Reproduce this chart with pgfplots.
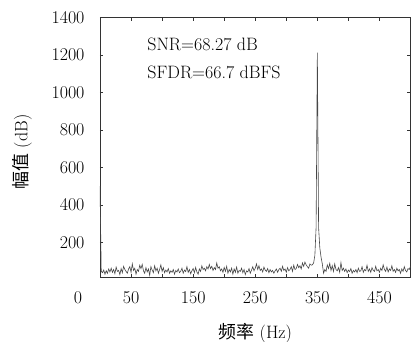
\documentclass[border=0pt]{standalone}
\usepackage{fontspec}
\newfontfamily\cjk{Noto Sans CJK SC}
\usepackage{pgfplots}
\pgfplotsset{compat=1.18}
\usepackage{pgfplotstable}
\pgfplotstableread{
x y
0 500
2 45
4 38
6 52
8 30
10 48
12 35
14 58
16 42
18 62
20 40
22 55
24 33
26 68
28 45
30 50
32 28
34 60
36 38
38 72
40 55
42 45
44 35
46 58
48 70
50 40
52 85
54 50
56 62
58 30
60 55
62 45
64 78
66 60
68 82
70 48
72 35
74 65
76 42
78 58
80 25
82 70
84 52
86 38
88 75
90 48
92 62
94 35
96 55
98 80
100 45
102 65
104 38
106 52
108 42
110 60
112 35
114 48
116 40
118 55
120 30
122 50
124 42
126 58
128 38
130 46
132 62
134 35
136 52
138 44
140 70
142 40
144 55
146 32
148 48
150 60
152 38
154 66
156 42
158 30
160 58
162 45
164 75
166 55
168 62
170 48
172 70
174 58
176 82
178 60
180 72
182 50
184 65
186 55
188 90
190 62
192 70
194 48
196 58
198 40
200 66
202 45
204 72
206 35
208 55
210 42
212 62
214 30
216 58
218 40
220 68
222 35
224 50
226 45
228 62
230 38
232 55
234 28
236 48
238 42
240 60
242 35
244 52
246 70
248 48
250 62
252 85
254 55
256 75
258 50
260 58
262 42
264 68
266 52
268 45
270 60
272 38
274 55
276 42
278 50
280 35
282 48
284 58
286 40
288 55
290 62
292 45
294 72
296 50
298 58
300 40
302 65
304 48
306 55
308 70
310 45
312 78
314 55
316 60
318 82
320 65
322 75
324 58
326 90
328 72
330 95
332 80
334 70
336 62
338 85
340 78
342 80
344 90
346 130
348 280
350 1213
352 280
354 170
356 120
358 85
360 35
362 55
364 45
366 80
368 60
370 88
372 50
374 75
376 45
378 85
380 55
382 48
384 65
386 40
388 92
390 50
392 62
394 45
396 58
398 38
400 52
402 44
404 60
406 35
408 50
410 42
412 55
414 38
416 62
418 45
420 48
422 70
424 40
426 55
428 48
430 78
432 45
434 58
436 40
438 65
440 50
442 45
444 72
446 48
448 55
450 40
452 62
454 50
456 80
458 55
460 45
462 68
464 42
466 58
468 50
470 75
472 45
474 55
476 40
478 62
480 48
482 55
484 35
486 58
488 45
490 70
492 50
494 42
496 60
498 55
500 72
}\spectrum
\begin{document}
\begin{tikzpicture}
\begin{axis}[
  scale only axis,
  width=310.5bp, height=259.4bp,
  xmin=0, xmax=500, ymin=15, ymax=1400,
  font=\fontsize{18}{21}\selectfont,
  /pgf/number format/assume math mode=true,
  /pgf/number format/set thousands separator={},
  axis line style={black!80, line width=0.8bp},
  every tick/.style={black!80, line width=0.6bp},
  major tick length=3.5bp,
  tick align=inside,
  xtick={0,50,...,500},
  xticklabels={,50,,150,,250,,350,,450,},
  ytick={200,400,...,1400},
  scaled ticks=false,
  xticklabel style={yshift=-11bp},
  yticklabel style={xshift=-12bp},
  extra x ticks={0},
  extra x tick labels={0},
  extra x tick style={major tick length=0pt, xticklabel style={xshift=-22bp}},
  xlabel={{\cjk 频率} (Hz)},
  ylabel={{\cjk 幅值} (dB)},
  xlabel style={at={(rel axis cs:0.5,-0.216)}, anchor=center},
  ylabel style={at={(rel axis cs:-0.251,0.482)}, anchor=center},
]
\addplot[black!72, line width=0.6bp] table[x=x, y=y] {\spectrum};
\node[anchor=west, inner sep=0pt] at (axis cs:76,1259) {SNR=68.27 dB};
\node[anchor=west, inner sep=0pt] at (axis cs:76,1109) {SFDR=66.7 dBFS};
\end{axis}
\pgfresetboundingbox
\path[use as bounding box] (-100bp,-65bp) rectangle (311bp,277bp);
\end{tikzpicture}
\end{document}
